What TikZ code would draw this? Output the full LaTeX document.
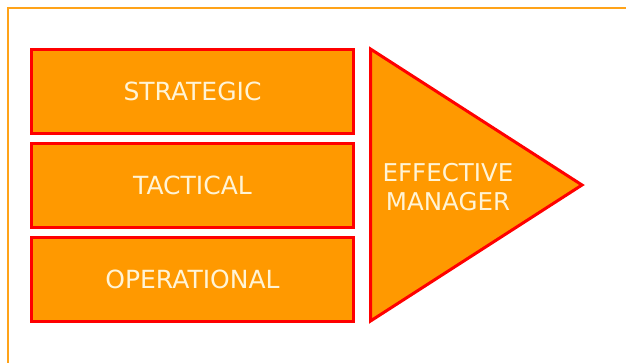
\documentclass[tikz,border=0pt]{standalone}
\usepackage{fontspec}
\setmainfont{DejaVu Sans}
\usepackage{xcolor}
\definecolor{naranja}{RGB}{255, 153, 0}
\definecolor{rojo}{RGB}{255, 0, 0}
\definecolor{crema}{RGB}{255, 244, 214}
\usetikzlibrary{positioning}

\begin{document}
\begin{tikzpicture}[x=1bp, y=-1bp,
    nivel/.style={draw=rojo, line width=3bp, fill=naranja, text=crema,
        minimum width=322bp, minimum height=84bp, inner sep=0pt,
        font=\fontsize{25bp}{29bp}\selectfont},
    flecha/.style={draw=rojo, line width=3bp, fill=naranja, line join=miter}]

    \useasboundingbox (0,0) rectangle (626,362);

    % Frame
    \draw[naranja!90, line width=2bp] (8,363) |- (627,8);

    % Levels
    \node[nivel] (strategic) at (192.5,91) {STRATEGIC};
    \node[nivel, below=7bp of strategic] (tactical) {TACTICAL};
    \node[nivel, below=7bp of tactical] (operational) {OPERATIONAL};

    % Result
    \draw[flecha] (370.5,49) -- (582,185) -- (370.5,321) -- cycle;
    \node[text=crema, align=center, font=\fontsize{24.5bp}{29bp}\selectfont]
        (manager) at (448,187) {EFFECTIVE\\MANAGER};
\end{tikzpicture}
\end{document}
